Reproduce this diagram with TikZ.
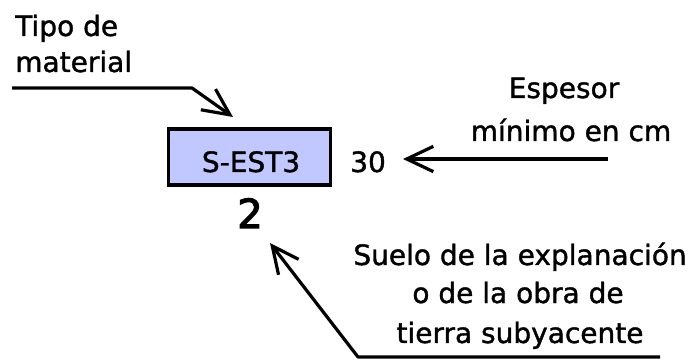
\documentclass[tikz,border=0pt]{standalone}
\usepackage{fontspec}
\setmainfont{DejaVu Sans}[BoldFont={DejaVu Sans}, BoldFeatures={FakeBold=1.3}]
\newfontfamily\heavyfont{DejaVu Sans}[BoldFont={DejaVu Sans}, BoldFeatures={FakeBold=3}]
\usetikzlibrary{arrows.meta}
\definecolor{boxblue}{RGB}{192,200,255}
\begin{document}
\begin{tikzpicture}[x=0.75pt,y=-0.75pt,
  lbl/.style={font=\fontsize{21}{24}\selectfont\bfseries, inner sep=0pt, anchor=base},
  lblw/.style={lbl, anchor=base west},
  pointer/.style={line width=2.4pt, line join=round,
    -{Straight Barb[length=20pt,width=19pt,line width=2.4pt]}},
  codebox/.style={draw, line width=2.4pt, fill=boxblue,
    minimum width=121pt, minimum height=42pt, inner sep=0pt}]
\useasboundingbox (0,0) rectangle (694,360);

% designation box and the numbers around it
\node[codebox] (box) at (249.5,157) {};
\node[lbl] (code) at (251,172) {S-EST3};
\node[lblw] (thick) at (350,172) {30};
\node[lbl, font=\heavyfont\fontsize{30}{34}\selectfont\bfseries] (layer) at (250,228) {2};

% explanatory labels
\node[lblw] (tipoA) at (15,36) {Tipo de};
\node[lblw] (tipoB) at (15,72) {material};
\node[lbl] (espA) at (564,98) {Espesor};
\node[lbl] (espB) at (571,141) {mínimo en cm};
\node[lbl] (sueA) at (520,265) {Suelo de la explanación};
\node[lbl] (sueB) at (518,303) {o de la obra de};
\node[lbl] (sueC) at (520,343) {tierra subyacente};

% connector ends
\coordinate (tipoTail) at (12,88);
\coordinate (tipoBend) at (192,88);
\coordinate (tipoTip) at (233,117);
\coordinate (espTail) at (608,159);
\coordinate (espTip) at (403,159);
\coordinate (sueTail) at (660,357);
\coordinate (sueBend) at (358,357);
\coordinate (sueTip) at (270,243);

\draw[pointer] (tipoTail) -- (tipoBend) -- (tipoTip);
\draw[pointer] (espTail) -- (espTip);
\draw[pointer] (sueTail) -- (sueBend) -- (sueTip);
\end{tikzpicture}
\end{document}
